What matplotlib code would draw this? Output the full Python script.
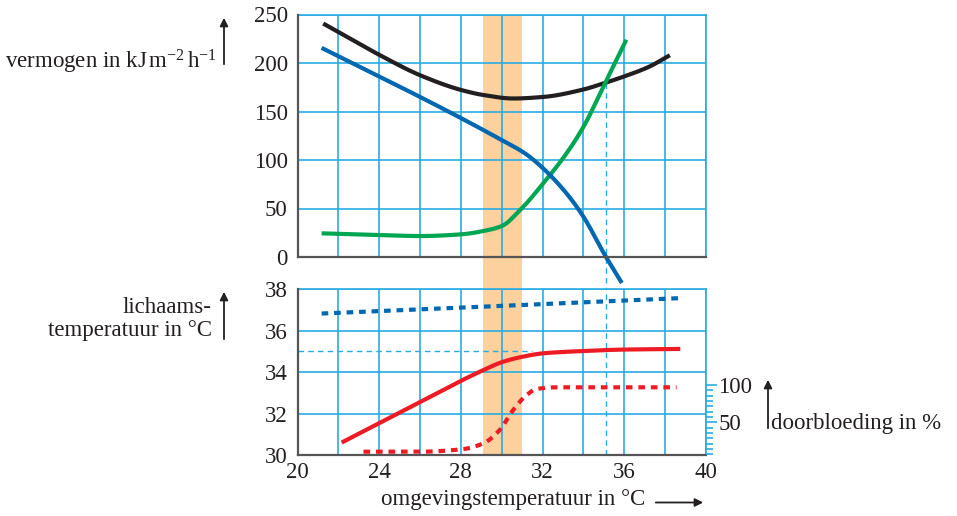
import matplotlib
matplotlib.use("Agg")
import matplotlib.pyplot as plt
import numpy as np
from matplotlib.patches import FancyArrowPatch

plt.rcParams['font.family'] = ['Liberation Serif', 'DejaVu Serif']
plt.rcParams['mathtext.fontset'] = 'custom'
plt.rcParams['mathtext.rm'] = 'Liberation Serif'
plt.rcParams['mathtext.it'] = 'Liberation Serif:italic'

# ---- data ----
black_x = [21.26, 22.5, 24.04, 26.0, 28.04, 29.1, 30.56, 32.03, 34.0, 35.05, 36.03, 37.2, 38.23]
black_y = [240.7, 226, 208, 187.4, 172, 167, 163.4, 165, 172.7, 179.5, 186.4, 196, 208]

blue_x = [21.18, 24.04, 26.0, 28.04, 30.0, 31.14, 32.03, 33.17, 34.0, 35.05, 35.88]
blue_y = [215.6, 185.7, 165, 142.8, 120.5, 106.8, 91.3, 65.6, 41.5, 2, -26.8]

green_x = [21.18, 24.04, 26.0, 28.04, 29.1, 30.0, 30.9, 32.03, 33.17, 34.0, 35.05, 36.1]
green_y = [24.4, 22.7, 21.6, 23.4, 26.8, 31.9, 48.4, 75.9, 106.8, 134.2, 178.9, 224]

body_x = [21.18, 30.0, 38.64]
body_dot_y = [36.83, 37.2, 37.57]

skin_x = [22.16, 24.04, 26.0, 28.04, 29.1, 30.0, 30.9, 32.03, 34.0, 35.96, 38.74]
skin_y = [30.6, 31.56, 32.56, 33.6, 34.1, 34.48, 34.72, 34.91, 35.02, 35.09, 35.12]

flow_x = [23.23, 26.0, 28.04, 29.1, 29.9, 30.56, 31.22, 31.7, 32.7, 38.56]
flow_y = [10.6, 10.6, 13.8, 21.8, 39.7, 66.5, 86.6, 94.6, 96.9, 96.9]

band = (29.1, 31.0)
x_ref = 35.1
y_ref = 35.0

xticks = [20, 24, 28, 32, 36, 40]
top_yticks = [0, 50, 100, 150, 200, 250]
bot_yticks = [30, 32, 34, 36, 38]
flow_ticks = [50, 100]


def smooth(x, y, n=400):
    """Monotone cubic (Fritsch-Carlson) curve through the given points."""
    x = np.asarray(x, float)
    y = np.asarray(y, float)
    h = np.diff(x)
    d = np.diff(y) / h
    m = np.zeros_like(y)
    m[0], m[-1] = d[0], d[-1]
    for i in range(1, len(x) - 1):
        if d[i - 1] * d[i] <= 0:
            m[i] = 0
        else:
            w1 = 2 * h[i] + h[i - 1]
            w2 = h[i] + 2 * h[i - 1]
            m[i] = (w1 + w2) / (w1 / d[i - 1] + w2 / d[i])
    xs = np.linspace(x[0], x[-1], n)
    idx = np.clip(np.searchsorted(x, xs) - 1, 0, len(x) - 2)
    t = (xs - x[idx]) / h[idx]
    h00 = 2 * t**3 - 3 * t**2 + 1
    h10 = t**3 - 2 * t**2 + t
    h01 = -2 * t**3 + 3 * t**2
    h11 = t**3 - t**2
    ys = h00 * y[idx] + h10 * h[idx] * m[idx] + h01 * y[idx + 1] + h11 * h[idx] * m[idx + 1]
    return xs, ys


# ---- style ----
GRID = '#29ABE2'
AX = '#555555'
BAND = '#FCD19E'
TXT = '#231F20'
C_BLACK = '#231F20'
C_BLUE = '#0068B0'
C_GREEN = '#00A651'
C_RED = '#ED1C24'
FS = 16.5
LW = 3

fig = plt.figure(figsize=(9.57, 5.16), dpi=100)
W, H = 957, 516
def rect(l, t, r, b):
    return [l / W, (H - b) / H, (r - l) / W, (b - t) / H]

ax1 = fig.add_axes(rect(297.5, 14.5, 706, 257))
ax2 = fig.add_axes(rect(297.5, 289.3, 706, 455))

for ax in (ax1, ax2):
    ax.set_xlim(20, 40)
    ax.set_xticks(np.arange(20, 41, 2), minor=True)
    ax.grid(True, which='both', axis='x', color=GRID, lw=1.2, zorder=1)
    ax.grid(True, which='major', axis='y', color=GRID, lw=1.2, zorder=1)
    ax.set_axisbelow(False)
    for s in ('top', 'right'):
        ax.spines[s].set_color(GRID)
        ax.spines[s].set_linewidth(1.2)
    for s in ('left', 'bottom'):
        ax.spines[s].set_color(AX)
        ax.spines[s].set_linewidth(1.6)
        ax.spines[s].set_zorder(5)
    ax.tick_params(length=0, which='both', labelsize=FS, colors=TXT)
    ax.axvspan(*band, color=BAND, lw=0, zorder=0.5)

ax1.set_ylim(0, 250)
ax1.set_yticks(top_yticks)
ax1.set_xticks(xticks)
ax1.tick_params(axis='x', labelbottom=False)
ax1.tick_params(axis='y', pad=7)

ax2.set_ylim(30, 38)
ax2.set_yticks(bot_yticks)
ax2.set_xticks(xticks)
ax2.tick_params(axis='y', pad=7)
ax2.tick_params(axis='x', pad=5)

# band in the gap between panels
ax1.axvspan(*band, ymin=-(289.3 - 257) / 242.5, ymax=0, color=BAND, lw=0,
            clip_on=False, zorder=0.5)

# top curves
ax1.plot(*smooth(black_x, black_y), color=C_BLACK, lw=LW, zorder=3, solid_capstyle='butt')
ax1.plot(*smooth(green_x, green_y), color=C_GREEN, lw=LW, zorder=3, solid_capstyle='butt')
ax1.plot(*smooth(blue_x, blue_y), color=C_BLUE, lw=LW, zorder=3, clip_on=False,
         solid_capstyle='butt')

# dashed reference lines
ax1.plot([x_ref, x_ref], [179.5, -35], color=GRID, lw=1, ls=(0, (4, 3)), clip_on=False, zorder=2)
ax2.plot([x_ref, x_ref], [30, 38], color=GRID, lw=1, ls=(0, (4, 3)), zorder=2)
ax2.plot([20, 31.5], [y_ref, y_ref], color=GRID, lw=1, ls=(0, (4, 3)), zorder=2)

# bottom curves
ax2.plot(body_x, body_dot_y, color=C_BLUE, lw=LW, ls=(0, (1.6, 1.4)), zorder=3)
ax2.plot(*smooth(skin_x, skin_y), color=C_RED, lw=LW, zorder=3, solid_capstyle='butt')

# secondary axis for doorbloeding
ax3 = ax2.twinx()
lo = (459.6 - 455) / 0.746
hi = (459.6 - 289.3) / 0.746
ax3.set_ylim(lo, hi)
ax3.set_yticks(flow_ticks)
minor = [100 - k * 50 / 7 for k in range(14) if 100 - k * 50 / 7 > lo]
ax3.set_yticks(minor, minor=True)
ax3.tick_params(axis='y', which='major', length=8, width=1.2, color=GRID,
                labelsize=FS, pad=1, labelcolor=TXT)
ax3.tick_params(axis='y', which='minor', length=5, width=1.2, color=GRID)
for s in ax3.spines.values():
    s.set_visible(False)
ax3.plot(*smooth(flow_x, flow_y), color=C_RED, lw=LW, ls=(0, (1.6, 1.4)), zorder=3)

# labels
fig.text(5 / W, 1 - 62 / H, r'vermogen in kJ$\,$m$^{-2}\,$h$^{-1}$', fontsize=FS,
         ha='left', va='center', color=TXT)
fig.text(212 / W, 1 - 319 / H, 'lichaams-\ntemperatuur in °C', fontsize=FS,
         ha='right', va='center', color=TXT, linespacing=1.15)
fig.text(771 / W, 1 - 424 / H, 'doorbloeding in %', fontsize=FS,
         ha='left', va='center', color=TXT)
fig.text(513.5 / W, 1 - 500 / H, 'omgevingstemperatuur in °C', fontsize=FS,
         ha='center', va='center', color=TXT)

def arrow(x0, y0, x1, y1):
    fig.patches.append(FancyArrowPatch((x0 / W, 1 - y0 / H), (x1 / W, 1 - y1 / H),
                                       transform=fig.transFigure, arrowstyle='-|>',
                                       mutation_scale=12, lw=1.3, color=TXT))

arrow(224, 67, 224, 15)
arrow(224, 342, 224, 289)
arrow(768, 431, 768, 377)
arrow(653, 502.5, 706, 502.5)

fig.savefig('out.png', dpi=100)
